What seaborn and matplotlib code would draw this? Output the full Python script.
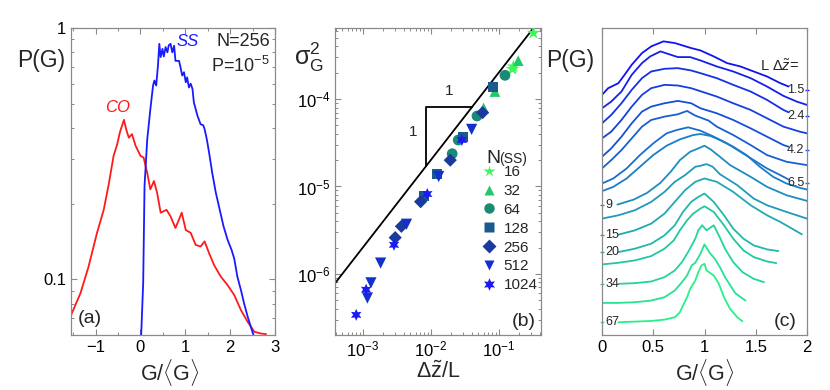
import numpy as np
import pandas as pd
import matplotlib
matplotlib.use("Agg")
import matplotlib.pyplot as plt
from matplotlib.lines import Line2D
from matplotlib.colors import LinearSegmentedColormap
from matplotlib.ticker import MultipleLocator, LogLocator, NullFormatter, FixedLocator, FixedFormatter
import seaborn as sns

# ---------------- panel (a): P(G) for CO and SS ----------------
CO_X = [-1.55, -1.34, -1.16, -0.97, -0.82, -0.71, -0.60, -0.52, -0.46, -0.37,
        -0.31, -0.26, -0.19, -0.11, 0.0, 0.07, 0.15, 0.22, 0.30, 0.37,
        0.45, 0.58, 0.67, 0.78, 0.92, 1.01, 1.12, 1.23, 1.34, 1.43,
        1.53, 1.64, 1.79, 1.94, 2.09, 2.24, 2.39, 2.54, 2.69, 2.80]
CO_P = [0.0719, 0.0879, 0.112, 0.153, 0.189, 0.238, 0.31, 0.344, 0.384, 0.431,
        0.39, 0.366, 0.378, 0.34, 0.31, 0.305, 0.265, 0.228, 0.246, 0.221,
        0.184, 0.189, 0.178, 0.16, 0.184, 0.157, 0.153, 0.137, 0.135, 0.1415,
        0.127, 0.114, 0.1025, 0.0949, 0.0866, 0.0754, 0.0677, 0.0618, 0.0608, 0.0605]
SS_X = [0.015, 0.06, 0.09, 0.15, 0.22, 0.28, 0.31, 0.35, 0.39, 0.42,
        0.45, 0.49, 0.52, 0.56, 0.60, 0.63, 0.67, 0.71, 0.75, 0.78,
        0.86, 0.90, 0.93, 0.97, 1.01, 1.04, 1.08, 1.12, 1.16, 1.19,
        1.27, 1.34, 1.40, 1.43, 1.48, 1.53, 1.60, 1.68, 1.75, 1.85,
        1.94, 2.03, 2.09, 2.16, 2.24, 2.31, 2.39, 2.46, 2.52]
SS_P = [0.0598, 0.0964, 0.235, 0.36, 0.475, 0.59, 0.618, 0.59, 0.71, 0.865,
        0.766, 0.826, 0.77, 0.84, 0.80, 0.853, 0.865, 0.80, 0.85, 0.74,
        0.74, 0.688, 0.647, 0.667, 0.608, 0.636, 0.58, 0.60, 0.572, 0.506,
        0.448, 0.414, 0.41, 0.396, 0.36, 0.319, 0.265, 0.221, 0.195, 0.163,
        0.144, 0.131, 0.121, 0.1025, 0.0906, 0.0802, 0.071, 0.0647, 0.06]

# ---------------- panel (b): variance vs dz/L ----------------
N_VALUES = [16, 32, 64, 128, 256, 512, 1024]
B_DZ = {
    16: [0.325, 0.16, 0.165],
    32: [0.194, 0.088, 0.060],
    64: [0.124, 0.048, 0.0254, 0.0207],
    128: [0.083, 0.0297, 0.0125, 0.0079],
    256: [0.058, 0.0194, 0.0071, 0.0037, 0.0030],
    512: [0.040, 0.0131, 0.0044, 0.00183, 0.00132, 0.00117],
    1024: [0.0288, 0.0089, 0.00288, 0.00112, 0.0008],
}
B_VAR = {
    16: [5.7e-4, 2.2e-4, 2.35e-4],
    32: [2.75e-4, 1.22e-4, 7.9e-5],
    64: [1.87e-4, 6.4e-5, 3.4e-5, 2.37e-5],
    128: [1.37e-4, 3.7e-5, 1.4e-5, 7.7e-6],
    256: [7.0e-5, 2.0e-5, 6.7e-6, 3.5e-6, 2.6e-6],
    512: [4.5e-5, 1.3e-5, 3.7e-6, 1.33e-6, 7.9e-7, 5.3e-7],
    1024: [3.4e-5, 8.2e-6, 2.15e-6, 6.6e-7, 3.4e-7],
}
REF_X = [3.9e-4, 0.33]
REF_Y = [7.8e-7, 6.6e-4]
TRI_X = [8.4e-3, 8.4e-3, 0.0405]
TRI_Y = [1.7e-5, 8.1e-5, 8.1e-5]

# ---------------- panel (c): offset P(G) curves ----------------
C_X = [
    [0, 0.06, 0.16, 0.22, 0.29, 0.39, 0.48, 0.6, 0.71, 0.87, 0.96, 1.09, 1.22, 1.35, 1.48, 1.61, 1.74, 1.82],
    [0, 0.09, 0.19, 0.29, 0.39, 0.47, 0.57, 0.65, 0.74, 0.86, 0.96, 1.12, 1.28, 1.45, 1.61, 1.77, 1.9, 2.0],
    [0, 0.09, 0.19, 0.29, 0.39, 0.48, 0.61, 0.74, 0.87, 0.96, 1.12, 1.28, 1.45, 1.61, 1.77, 1.82],
    [0, 0.09, 0.19, 0.29, 0.39, 0.48, 0.61, 0.74, 0.87, 1.0, 1.12, 1.28, 1.45, 1.61, 1.77, 1.93, 2.0],
    [0, 0.09, 0.19, 0.29, 0.39, 0.48, 0.61, 0.74, 0.87, 0.96, 1.12, 1.28, 1.45, 1.61, 1.77, 1.82],
    [0, 0.09, 0.19, 0.29, 0.39, 0.48, 0.61, 0.74, 0.83, 0.91, 1.04, 1.12, 1.28, 1.45, 1.61, 1.8, 2.0],
    [0, 0.11, 0.24, 0.37, 0.5, 0.63, 0.73, 0.84, 0.96, 1.09, 1.22, 1.35, 1.48, 1.61, 1.74, 1.82],
    [0, 0.11, 0.24, 0.37, 0.5, 0.63, 0.76, 0.89, 0.96, 1.06, 1.15, 1.28, 1.41, 1.54, 1.67, 1.8, 1.93, 2.0],
    [0.15, 0.31, 0.44, 0.57, 0.67, 0.76, 0.86, 0.94, 1.0, 1.06, 1.15, 1.25, 1.45, 1.61, 1.8, 2.0],
    [0, 0.16, 0.32, 0.48, 0.61, 0.71, 0.81, 0.91, 0.96, 1.02, 1.08, 1.15, 1.32, 1.48, 1.61, 1.8, 2.0],
    [0.16, 0.32, 0.48, 0.61, 0.71, 0.81, 0.91, 1.0, 1.12, 1.28, 1.45, 1.61, 1.74, 1.95],
    [0.16, 0.32, 0.48, 0.61, 0.71, 0.79, 0.87, 0.94, 1.0, 1.09, 1.19, 1.28, 1.38, 1.48, 1.61, 1.72],
    [0, 0.16, 0.32, 0.48, 0.61, 0.7, 0.76, 0.83, 0.89, 0.96, 1.0, 1.09, 1.19, 1.28, 1.38, 1.48, 1.61, 1.7],
    [0.16, 0.32, 0.48, 0.61, 0.71, 0.78, 0.84, 0.91, 0.94, 0.976, 1.02, 1.09, 1.14, 1.2, 1.28, 1.37, 1.48, 1.58],
    [0, 0.16, 0.32, 0.48, 0.61, 0.71, 0.78, 0.83, 0.875, 0.91, 0.96, 1.0, 1.05, 1.1, 1.15, 1.2, 1.3, 1.4],
    [0.16, 0.32, 0.48, 0.61, 0.71, 0.76, 0.79, 0.83, 0.86, 0.91, 0.94, 0.97, 1.0, 1.02, 1.09, 1.14, 1.19, 1.25, 1.32, 1.37],
]
C_Y = [
    [71.8, 73.8, 75.3, 77.8, 80.8, 84.3, 86.3, 87.8, 87.3, 85.8, 85.1, 83.3, 81.3, 80.3, 78.8, 77.3, 75.3, 74.3],
    [67.8, 69.8, 72.8, 77.8, 81.3, 83.3, 84.8, 84.0, 83.1, 83.1, 82.1, 80.3, 78.8, 76.8, 74.3, 71.5, 69.8, 68.8],
    [63.3, 65.8, 69.3, 73.3, 76.8, 78.8, 79.6, 79.8, 79.1, 78.3, 76.8, 74.8, 72.8, 70.3, 67.3, 66.6],
    [58.8, 60.8, 64.3, 68.3, 71.8, 73.8, 74.8, 74.6, 73.8, 72.5, 71.3, 69.3, 67.3, 64.8, 62.3, 60.8, 60.3],
    [53.3, 55.8, 59.3, 63.3, 66.8, 68.3, 69.3, 70.0, 69.3, 67.8, 66.3, 64.3, 61.8, 59.3, 56.8, 56.3],
    [49.8, 52.3, 55.3, 58.8, 62.3, 64.3, 65.3, 66.0, 67.0, 65.6, 64.1, 62.3, 59.8, 56.8, 53.8, 51.8, 50.8],
    [45.3, 46.8, 49.8, 53.8, 57.3, 60.3, 61.3, 62.1, 61.1, 59.3, 57.3, 54.8, 52.3, 49.8, 47.8, 46.5],
    [43.0, 44.3, 46.8, 50.3, 53.8, 56.6, 58.5, 59.8, 60.1, 59.5, 58.3, 56.3, 53.8, 50.3, 47.3, 45.3, 44.0, 43.5],
    [39.0, 40.5, 42.5, 45.5, 48.8, 52.3, 54.8, 55.8, 56.6, 55.5, 53.3, 50.8, 47.3, 44.3, 41.8, 40.1],
    [34.8, 35.8, 37.3, 39.8, 42.8, 45.8, 47.8, 50.3, 50.6, 51.1, 50.3, 48.1, 44.8, 40.8, 38.8, 36.8, 34.8],
    [30.0, 31.3, 33.3, 36.3, 39.8, 43.3, 45.8, 46.8, 45.8, 42.8, 38.8, 35.8, 33.8, 30.1],
    [24.8, 25.8, 27.3, 29.8, 32.8, 36.8, 39.8, 41.3, 42.3, 39.8, 35.8, 31.8, 28.8, 26.8, 25.6, 25.1],
    [21.1, 21.6, 22.3, 23.6, 25.8, 28.3, 31.3, 34.3, 36.3, 37.8, 38.5, 36.8, 32.8, 28.8, 25.3, 23.3, 22.0, 21.5],
    [15.3, 15.5, 16.0, 17.3, 19.3, 21.8, 24.8, 28.8, 31.3, 32.8, 31.3, 32.8, 29.8, 25.8, 21.8, 18.8, 16.8, 15.8],
    [9.6, 9.6, 9.8, 10.3, 11.3, 13.3, 15.8, 17.8, 20.8, 21.6, 24.3, 27.1, 24.6, 22.8, 20.3, 17.3, 12.5, 10.3],
    [3.8, 4.0, 4.2, 4.6, 5.3, 6.8, 8.8, 11.3, 13.8, 16.3, 18.8, 20.8, 21.3, 19.3, 17.8, 15.3, 11.3, 7.8, 5.3, 4.1],
]
RIGHT_LABELS = {0: "1.5", 2: "2.4", 4: "4.2", 6: "6.5"}
LEFT_LABELS = {8: "9", 10: "15", 11: "20", 13: "34", 15: "67"}

# ---------------- style ----------------
sns.set_style("ticks")
plt.rcParams["font.family"] = ["Liberation Sans", "DejaVu Sans"]
plt.rcParams["mathtext.fontset"] = "custom"
plt.rcParams["mathtext.rm"] = "Liberation Sans"
plt.rcParams["mathtext.it"] = "Liberation Sans:italic"
plt.rcParams["mathtext.bf"] = "Liberation Sans:bold"
plt.rcParams["mathtext.sf"] = "Liberation Sans"

W, H = 830, 390
fig = plt.figure(figsize=(W / 100, H / 100), dpi=100)

def px_axes(x0, x1, y0, y1):
    return fig.add_axes([x0 / W, 1 - y1 / H, (x1 - x0) / W, (y1 - y0) / H])

def ftext(x, y, s, **kw):
    fig.text(x / W, 1 - y / H, s, **kw)

GREY = "#8a8a8a"
def style_axes(ax):
    for sp in ax.spines.values():
        sp.set_visible(True)
        sp.set_color(GREY)
        sp.set_linewidth(0.9)
    ax.tick_params(which="both", direction="in", top=True, right=True, color=GREY,
                   labelsize=12, labelcolor="black")
    ax.tick_params(which="major", length=4, width=0.8)
    ax.tick_params(which="minor", length=2.2, width=0.7)

ax_a = px_axes(71, 275, 28, 335)
ax_b = px_axes(335, 541, 28, 335)
ax_c = px_axes(602, 807, 28, 335)

# ---- panel (a)
sns.lineplot(x=CO_X, y=CO_P, ax=ax_a, color="#ff1a1a", linewidth=1.3, estimator=None, sort=False)
sns.lineplot(x=SS_X, y=SS_P, ax=ax_a, color="#1a1aff", linewidth=1.3, estimator=None, sort=False)
ax_a.set_yscale("log")
ax_a.set_xlim(-1.55, 3.0)
ax_a.set_ylim(0.06, 1.0)
ax_a.xaxis.set_major_locator(MultipleLocator(1))
ax_a.xaxis.set_minor_locator(MultipleLocator(0.5))
ax_a.yaxis.set_major_locator(FixedLocator([0.1, 1]))
ax_a.yaxis.set_major_formatter(FixedFormatter(["0.1", "1"]))
ax_a.yaxis.set_minor_locator(LogLocator(base=10, subs=np.arange(2, 10)))
ax_a.yaxis.set_minor_formatter(NullFormatter())
ax_a.set_xlabel("")
ax_a.set_ylabel("")
style_axes(ax_a)
ax_a.text(0.57, 0.955, "SS", transform=ax_a.transAxes, color="#1a1aff", fontsize=12,
          style="italic", ha="center", va="center")
ax_a.text(0.23, 0.74, "CO", transform=ax_a.transAxes, color="#ff1a1a", fontsize=12,
          style="italic", ha="center", va="center")
ax_a.text(0.975, 0.955, "N=256", transform=ax_a.transAxes, fontsize=13, ha="right", va="center")
ax_a.text(0.975, 0.875, r"P=10$^{-5}$", transform=ax_a.transAxes, fontsize=13, ha="right", va="center")
ax_a.text(0.09, 0.055, "(a)", transform=ax_a.transAxes, fontsize=14, ha="center", va="center")

# ---- panel (b)
rows = []
for n in N_VALUES:
    for dz, v in zip(B_DZ[n], B_VAR[n]):
        rows.append({"dz": dz, "var": v, "N": n})
df_b = pd.DataFrame(rows)
PAL = {16: "#3cf75a", 32: "#22c86a", 64: "#1a8a74", 128: "#1a5a8e", 256: "#1a3a9e",
       512: "#1230cc", 1024: "#1a1af5"}
MARK = {16: "*", 32: "^", 64: "o", 128: "s", 256: "D", 512: "v", 1024: (6, 1, 0)}
SIZES = {16: 100, 32: 60, 64: 60, 128: 50, 256: 45, 512: 65, 1024: 75}
sns.lineplot(x=REF_X, y=REF_Y, ax=ax_b, color="black", linewidth=1.3, estimator=None, sort=False)
sns.lineplot(x=TRI_X, y=TRI_Y, ax=ax_b, color="black", linewidth=1.3, estimator=None, sort=False)
for n in N_VALUES:
    sub = df_b[df_b["N"] == n]
    sns.scatterplot(data=sub, x="dz", y="var", ax=ax_b, color=PAL[n], marker=MARK[n],
                    s=SIZES[n], edgecolor="none", legend=False, zorder=3)
ax_b.set_xscale("log")
ax_b.set_yscale("log")
ax_b.set_xlim(3.9e-4, 0.42)
ax_b.set_ylim(2.0e-7, 6.5e-4)
ax_b.xaxis.set_major_locator(FixedLocator([1e-3, 1e-2, 1e-1]))
ax_b.xaxis.set_major_formatter(FixedFormatter([r"10$^{-3}$", r"10$^{-2}$", r"10$^{-1}$"]))
ax_b.yaxis.set_major_locator(FixedLocator([1e-6, 1e-5, 1e-4]))
ax_b.yaxis.set_major_formatter(FixedFormatter([r"10$^{-6}$", r"10$^{-5}$", r"10$^{-4}$"]))
ax_b.xaxis.set_minor_locator(LogLocator(base=10, subs=np.arange(2, 10), numticks=20))
ax_b.yaxis.set_minor_locator(LogLocator(base=10, subs=np.arange(2, 10), numticks=20))
ax_b.xaxis.set_minor_formatter(NullFormatter())
ax_b.yaxis.set_minor_formatter(NullFormatter())
ax_b.set_xlabel("")
ax_b.set_ylabel("")
style_axes(ax_b)
ax_b.text(0.0184, 1.02e-4, "1", fontsize=11, ha="center", va="bottom")
ax_b.text(6.4e-3, 4.2e-5, "1", fontsize=11, ha="right", va="center")
ax_b.text(0.915, 0.045, "(b)", transform=ax_b.transAxes, fontsize=14, ha="center", va="center")
handles = [Line2D([], [], marker=MARK[n], color=PAL[n], ls="", ms=9 if n in (16, 1024) else 7.5,
                  mec="none") for n in N_VALUES]
ax_b.legend(handles, [str(n) for n in N_VALUES], loc="upper left",
            bbox_to_anchor=(480 / W, 1 - 165 / H), bbox_transform=fig.transFigure,
            frameon=False, fontsize=11, handlelength=1.2, handletextpad=0.35,
            labelspacing=0.32, borderpad=0, borderaxespad=0)
ftext(486, 163, "N", fontsize=14, ha="left", va="baseline")
ftext(499, 163, "(SS)", fontsize=10, ha="left", va="baseline")

# ---- panel (c)
cmap = LinearSegmentedColormap.from_list("bg", ["#1212f2", "#1a86c4", "#28f08a"])
n_c = len(C_X)
for i in range(n_c):
    col = cmap(i / (n_c - 1))
    sns.lineplot(x=C_X[i], y=C_Y[i], ax=ax_c, color=col, linewidth=1.3, estimator=None, sort=False)
    if i in RIGHT_LABELS:
        yl = C_Y[i][-1] - 1.0
        ax_c.text(1.975, yl, RIGHT_LABELS[i], fontsize=9, ha="right", va="center")
        ax_c.plot([2.0], [yl], marker="_", ms=3, color=col, clip_on=False)
    if i in LEFT_LABELS:
        yl = C_Y[i][0]
        ax_c.text(0.03, yl, LEFT_LABELS[i], fontsize=9, ha="left", va="center")
        ax_c.plot([0.0], [yl], marker="_", ms=3, color=col, clip_on=False)
ax_c.text(1.54, 80.3, r"L $\Delta\tilde{z}$=", fontsize=10.5, ha="left", va="center")
ax_c.set_xlim(0, 2)
ax_c.set_ylim(0, 91.8)
ax_c.xaxis.set_major_locator(FixedLocator([0, 0.5, 1, 1.5, 2]))
ax_c.xaxis.set_major_formatter(FixedFormatter(["0", "0.5", "1", "1.5", "2"]))
ax_c.set_yticks([])
ax_c.set_xlabel("")
ax_c.set_ylabel("")
style_axes(ax_c)
ax_c.tick_params(axis="y", left=False, right=False)
ax_c.text(0.895, 0.045, "(c)", transform=ax_c.transAxes, fontsize=14, ha="center", va="center")

# ---- axis labels as figure text
ftext(41, 61, "P(G)", fontsize=16.5, ha="center", va="center")
ftext(570, 61, "P(G)", fontsize=16.5, ha="center", va="center")
ftext(309, 57, r"$\mathregular{\sigma_G^2}$", fontsize=18, ha="center", va="center")
ftext(170, 372, r"G/$\langle$G$\rangle$", fontsize=15.5, ha="center", va="center")
ftext(705, 372, r"G/$\langle$G$\rangle$", fontsize=15.5, ha="center", va="center")
ftext(438, 372, r"$\mathregular{\Delta\tilde{z}/L}$", fontsize=15.5, ha="center", va="center")

fig.savefig("out.png", dpi=100)
